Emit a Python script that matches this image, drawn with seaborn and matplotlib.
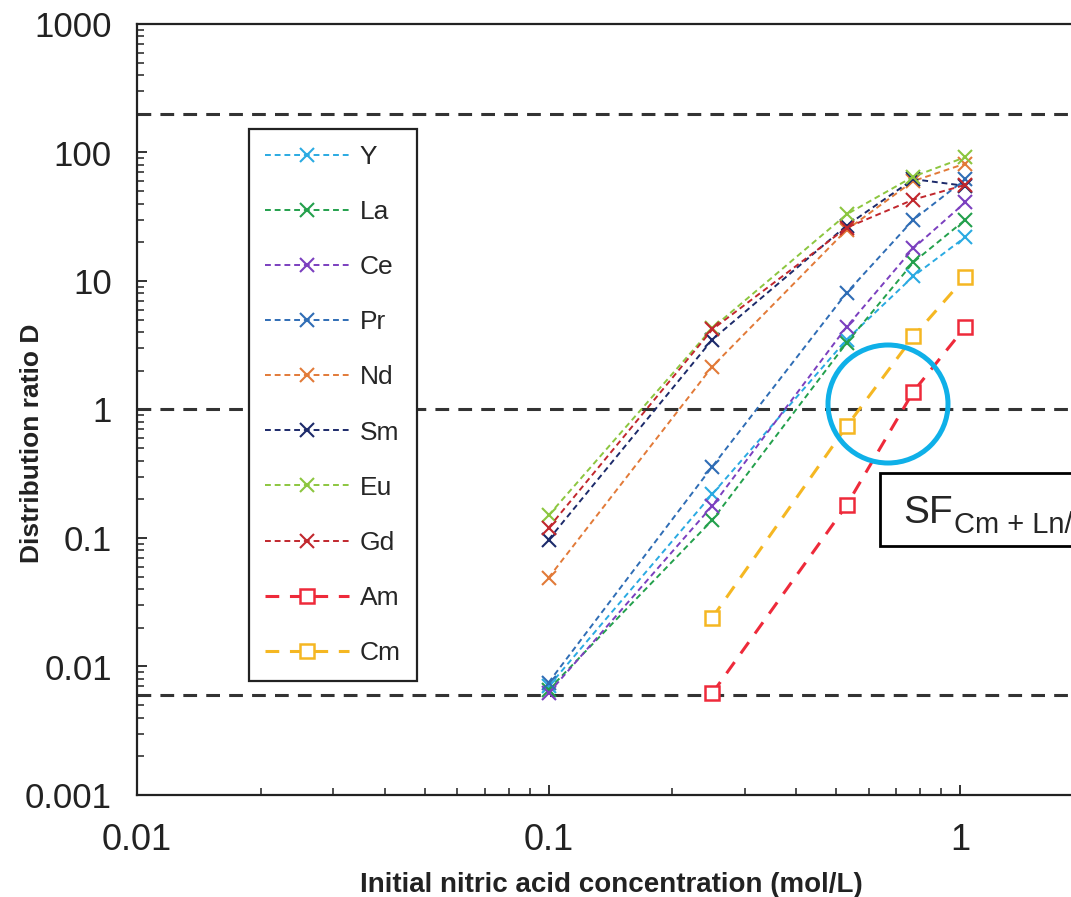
import matplotlib
matplotlib.use("Agg")
import matplotlib.pyplot as plt
import numpy as np
import pandas as pd
import seaborn as sns
from matplotlib.patches import Ellipse, Rectangle
from matplotlib.ticker import NullFormatter, LogLocator

# --data
acid = [0.1, 0.25, 0.53, 0.77, 1.03]
acid_act = [0.25, 0.53, 0.77, 1.03]

d_y = [0.0070, 0.22, 3.5, 10.9, 22]
d_la = [0.0066, 0.138, 3.3, 14, 30]
d_ce = [0.0062, 0.178, 4.4, 18, 41]
d_pr = [0.0075, 0.36, 8.1, 30, 62]
d_nd = [0.049, 2.16, 25, 60, 82]
d_sm = [0.097, 3.5, 27, 62, 55]
d_eu = [0.15, 4.3, 33, 65, 92]
d_gd = [0.12, 4.2, 26, 43, 56]
d_am = [0.0062, 0.18, 1.38, 4.4]
d_cm = [0.024, 0.74, 3.7, 10.7]

lanthanides = ["Y", "La", "Ce", "Pr", "Nd", "Sm", "Eu", "Gd"]
actinides = ["Am", "Cm"]
limit_lines = [200, 1, 0.006]

x_ticks = [0.01, 0.1, 1]
x_tick_labels = ["0.01", "0.1", "1"]
y_ticks = [0.001, 0.01, 0.1, 1, 10, 100, 1000]
y_tick_labels = ["0.001", "0.01", "0.1", "1", "10", "100", "1000"]

colors = {
    "Y": "#2aaae2", "La": "#23a04c", "Ce": "#7b3fbf", "Pr": "#2f6db5",
    "Nd": "#e27a38", "Sm": "#1c2a6a", "Eu": "#8cc63f", "Gd": "#c1272d",
    "Am": "#ee2a3a", "Cm": "#f5b722",
}

series = {
    "Y": (acid, d_y), "La": (acid, d_la), "Ce": (acid, d_ce), "Pr": (acid, d_pr),
    "Nd": (acid, d_nd), "Sm": (acid, d_sm), "Eu": (acid, d_eu), "Gd": (acid, d_gd),
    "Am": (acid_act, d_am), "Cm": (acid_act, d_cm),
}

sns.set_style("white")
plt.rcParams["font.family"] = ["Liberation Sans", "DejaVu Sans"]

W, H = 1071, 897
fig = plt.figure(figsize=(W / 100, H / 100), dpi=100)
ax = fig.add_axes([137 / W, 1 - 795 / H, (W - 137) / W, (795 - 24) / H])

# threshold lines first so the curves sit on top
for level in limit_lines:
    ax.axhline(level, color="#333333", lw=2.2, linestyle=(0, (4.5, 3)), zorder=1)

for name, (xs, ys) in series.items():
    df = pd.DataFrame({"x": xs, "D": ys})
    if name in actinides:
        sns.lineplot(data=df, x="x", y="D", ax=ax, color=colors[name], label=name,
                     lw=2.2, linestyle=(0, (4.5, 3.5)), marker="s", markersize=10,
                     markerfacecolor="white", markeredgecolor=colors[name],
                     markeredgewidth=1.8, zorder=3)
    else:
        sns.lineplot(data=df, x="x", y="D", ax=ax, color=colors[name], label=name,
                     lw=1.4, linestyle=(0, (3, 2)), marker="x", markersize=10,
                     markeredgecolor=colors[name], markeredgewidth=1.5, zorder=3)

ax.set_xscale("log")
ax.set_yscale("log")
ax.set_xlim(0.01, 10 ** ((W - 960) / 412))
ax.set_ylim(0.001, 1000)

ax.set_xticks(x_ticks, labels=x_tick_labels)
ax.set_yticks(y_ticks, labels=y_tick_labels)
ax.xaxis.set_minor_locator(LogLocator(base=10, subs=np.arange(2, 10)))
ax.yaxis.set_minor_locator(LogLocator(base=10, subs=np.arange(2, 10)))
ax.xaxis.set_minor_formatter(NullFormatter())
ax.yaxis.set_minor_formatter(NullFormatter())
ax.tick_params(which="both", direction="in", bottom=True, left=True,
               top=False, right=False, color="#222222")
ax.tick_params(which="major", length=7, width=1.3)
ax.tick_params(which="minor", length=5, width=1.1)
ax.tick_params(axis="x", which="major", labelsize=26, pad=20, labelcolor="#222222")
ax.tick_params(axis="y", which="major", labelsize=25, pad=18, labelcolor="#222222")

for side in ["left", "bottom", "top"]:
    ax.spines[side].set_color("#222222")
    ax.spines[side].set_linewidth(1.6)
ax.spines["right"].set_visible(False)

ax.set_xlabel("Initial nitric acid concentration (mol/L)", fontsize=20,
              fontweight="bold", family=["Liberation Sans Narrow", "Liberation Sans"],
              color="#222222")
ax.set_ylabel("Distribution ratio D", fontsize=19, fontweight="bold",
              family=["Liberation Sans Narrow", "Liberation Sans"], color="#222222")
ax.xaxis.set_label_coords((611 - 137) / (W - 137), (795 - 872) / (795 - 24))
ax.yaxis.set_label_coords((44 - 137) / (W - 137), (795 - 443) / (795 - 24))

handles, labels = ax.get_legend_handles_labels()
leg = ax.legend(handles, labels, loc="upper left",
                bbox_to_anchor=(249 / W, 1 - 129 / H), bbox_transform=fig.transFigure,
                borderaxespad=0, frameon=True, fancybox=False, fontsize=19,
                handlelength=3.2, handletextpad=0.4, labelspacing=1.18,
                borderpad=0.6)
leg.get_frame().set_edgecolor("#222222")
leg.get_frame().set_linewidth(1.6)
leg.get_frame().set_facecolor("white")
leg.get_frame().set_alpha(1)
leg.set_zorder(5)

# highlight circle
fig.patches.append(Ellipse((888 / W, 1 - 404 / H), 120 / W, 118 / H,
                           transform=fig.transFigure, fill=False,
                           edgecolor="#0fb0e8", lw=3.6, zorder=6))

# separation factor box (cut by the right edge, as in the source)
fig.patches.append(Rectangle((880 / W, 1 - 546 / H), 400 / W, 73 / H,
                             transform=fig.transFigure, fill=True, facecolor="white",
                             edgecolor="black", lw=2, zorder=6))
fig.text(903 / W, 1 - 523 / H, "SF", fontsize=28, ha="left", va="baseline", zorder=7)
fig.text(954 / W, 1 - 533 / H, "Cm + Ln/Am", fontsize=21, ha="left", va="baseline",
         zorder=7)

fig.savefig("out.png", dpi=100)
